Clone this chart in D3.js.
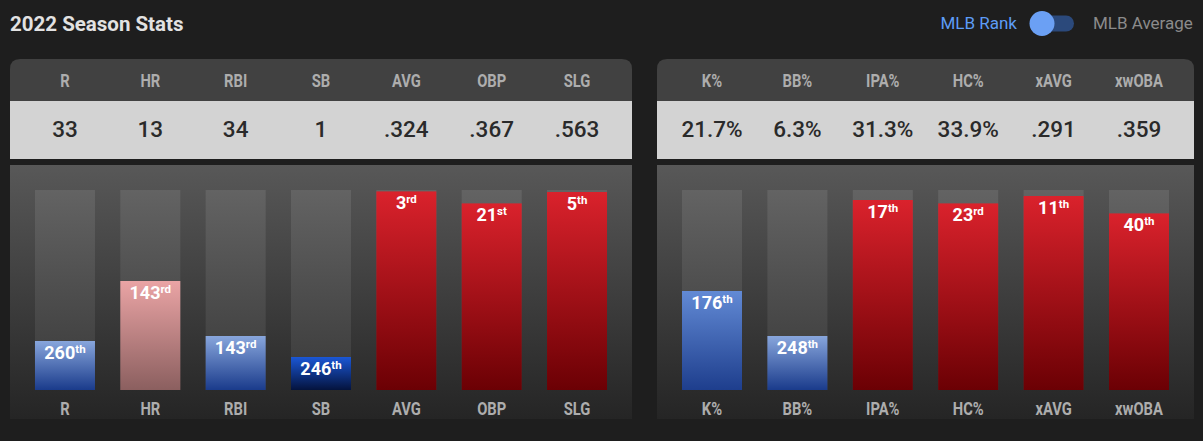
<!DOCTYPE html>
<html>
<head>
<meta charset="utf-8">
<script src="https://cdn.jsdelivr.net/npm/d3@7"></script>
<style>
  body { margin: 0; background: #1e1e1e; }
  svg { display: block; font-family: Roboto, "Noto Sans", sans-serif; }
</style>
</head>
<body>
<svg id="chart" width="1203" height="441"></svg>
<script>
// Left panel: counting + rate stats
const catsA = ["R", "HR", "RBI", "SB", "AVG", "OBP", "SLG"];
const statsA = ["33", "13", "34", "1", ".324", ".367", ".563"];
const ranksA = [260, 143, 143, 246, 3, 21, 5];
const pctA = [24.5, 54.5, 27, 16.5, 99.3, 93.3, 99];
const tonesA = ["blue", "pink", "blue", "deep", "red", "red", "red"];

// Right panel: plate discipline / expected stats
const catsB = ["K%", "BB%", "IPA%", "HC%", "xAVG", "xwOBA"];
const statsB = ["21.7%", "6.3%", "31.3%", "33.9%", ".291", ".359"];
const ranksB = [176, 248, 17, 23, 11, 40];
const pctB = [49.5, 27, 95, 93.3, 97, 88.3];
const tonesB = ["blueMid", "blue", "red", "red", "red", "red"];

const svg = d3.select("#chart");
const defs = svg.append("defs");

// gradients for each bar colour
const toneStops = {
    blue: ["#88a6dc", "#1a3b8b"],
    blueMid: ["#628ad5", "#1e3e8d"],
    deep: ["#1b57d5", "#04133d"],
    pink: ["#eaa4a5", "#8b5f5f"],
    red: ["#da222c", "#6b0004"]
};
Object.keys(toneStops).forEach(function(k) {
    const g = defs.append("linearGradient").attr("id", "g-" + k)
        .attr("x1", 0).attr("y1", 0).attr("x2", 0).attr("y2", 1);
    g.append("stop").attr("offset", "0%").attr("stop-color", toneStops[k][0]);
    g.append("stop").attr("offset", "100%").attr("stop-color", toneStops[k][1]);
});

const panelBg = defs.append("linearGradient").attr("id", "panel-bg")
    .attr("gradientUnits", "userSpaceOnUse")
    .attr("x1", 0).attr("y1", 165).attr("x2", 0).attr("y2", 419);
panelBg.append("stop").attr("offset", "0%").attr("stop-color", "#585858");
panelBg.append("stop").attr("offset", "88%").attr("stop-color", "#2b2b2b");
panelBg.append("stop").attr("offset", "100%").attr("stop-color", "#252525");

const trackBg = defs.append("linearGradient").attr("id", "track-bg")
    .attr("gradientUnits", "userSpaceOnUse")
    .attr("x1", 0).attr("y1", 190).attr("x2", 0).attr("y2", 390);
trackBg.append("stop").attr("offset", "0%").attr("stop-color", "#636363");
trackBg.append("stop").attr("offset", "100%").attr("stop-color", "#393939");

// Title
svg.append("text")
    .attr("x", 10).attr("y", 31)
    .attr("fill", "#e2e2e2")
    .attr("font-size", 20.5).attr("font-weight", 700)
    .text("2022 Season Stats");

// Toggle
svg.append("text")
    .attr("x", 1017).attr("y", 29)
    .attr("text-anchor", "end")
    .attr("fill", "#5d9cf6").attr("font-size", 17)
    .text("MLB Rank");
svg.append("rect")
    .attr("x", 1032).attr("y", 15.5).attr("width", 42).attr("height", 16).attr("rx", 8)
    .attr("fill", "#2b497b");
svg.append("circle")
    .attr("cx", 1042).attr("cy", 23.5).attr("r", 12.5)
    .attr("fill", "#6ba0f4");
svg.append("text")
    .attr("x", 1093).attr("y", 29)
    .attr("fill", "#8b8b8b").attr("font-size", 17)
    .text("MLB Average");

// bar height scale
const yScale = d3.scaleLinear().domain([0, 100]).range([390, 190]);

function suffix(n) {
    const t = n % 100;
    if (t >= 11 && t <= 13) return "th";
    if (n % 10 === 1) return "st";
    if (n % 10 === 2) return "nd";
    if (n % 10 === 3) return "rd";
    return "th";
}

function condensedLabel(g, x, y, txt) {
    g.append("text")
        .attr("transform", "translate(" + x + "," + y + ") scale(0.82,1)")
        .attr("text-anchor", "middle")
        .attr("fill", "#adadad")
        .attr("font-size", 18).attr("font-weight", 700)
        .text(txt);
}

function drawPanel(x0, x1, cats, stats, ranks, pcts, tones) {
    const g = svg.append("g");
    const r = 10;

    // header row with rounded top corners
    g.append("path")
        .attr("d", "M" + x0 + ",101 V" + (59 + r) + " Q" + x0 + ",59 " + (x0 + r) + ",59 H" + (x1 - r) +
            " Q" + x1 + ",59 " + x1 + "," + (59 + r) + " V101 Z")
        .attr("fill", "#414141");
    g.append("rect")
        .attr("x", x0).attr("y", 101).attr("width", x1 - x0).attr("height", 58)
        .attr("fill", "#d3d3d3");
    g.append("rect")
        .attr("x", x0).attr("y", 165).attr("width", x1 - x0).attr("height", 254)
        .attr("fill", "url(#panel-bg)");

    const xScale = d3.scaleBand()
        .domain(cats)
        .range([x0 + 12.3, x1 - 12.3]);
    const bw = 60;
    const cx = d => xScale(d) + xScale.bandwidth() / 2;

    cats.forEach(function(c, i) {
        condensedLabel(g, cx(c), 86.8, c);
        condensedLabel(g, cx(c), 415, c);

        g.append("text")
            .attr("x", cx(c)).attr("y", 136.5)
            .attr("text-anchor", "middle")
            .attr("fill", "#2a2a2a")
            .attr("font-size", 22.5).attr("font-weight", 500)
            .text(stats[i]);
    });

    // grey tracks
    g.selectAll("rect.track")
        .data(cats)
        .enter().append("rect")
        .attr("class", "track")
        .attr("x", d => cx(d) - bw / 2)
        .attr("y", yScale(100))
        .attr("width", bw)
        .attr("height", yScale(0) - yScale(100))
        .attr("fill", "url(#track-bg)");

    // coloured bars
    g.selectAll("rect.bar")
        .data(cats)
        .enter().append("rect")
        .attr("class", "bar")
        .attr("x", d => cx(d) - bw / 2)
        .attr("y", (d, i) => yScale(pcts[i]))
        .attr("width", bw)
        .attr("height", (d, i) => yScale(0) - yScale(pcts[i]))
        .attr("fill", (d, i) => "url(#g-" + tones[i] + ")");

    // rank labels
    const lbl = g.selectAll("text.rank")
        .data(cats)
        .enter().append("text")
        .attr("class", "rank")
        .attr("x", d => cx(d))
        .attr("y", (d, i) => yScale(pcts[i]) + 17.5)
        .attr("text-anchor", "middle")
        .attr("fill", "#ffffff")
        .attr("font-weight", 700);
    lbl.append("tspan")
        .attr("font-size", 18)
        .text((d, i) => ranks[i]);
    lbl.append("tspan")
        .attr("font-size", 11.5)
        .attr("dy", -6)
        .text((d, i) => suffix(ranks[i]));
}

drawPanel(10, 632, catsA, statsA, ranksA, pctA, tonesA);
drawPanel(657, 1194, catsB, statsB, ranksB, pctB, tonesB);
</script>
</body>
</html>
